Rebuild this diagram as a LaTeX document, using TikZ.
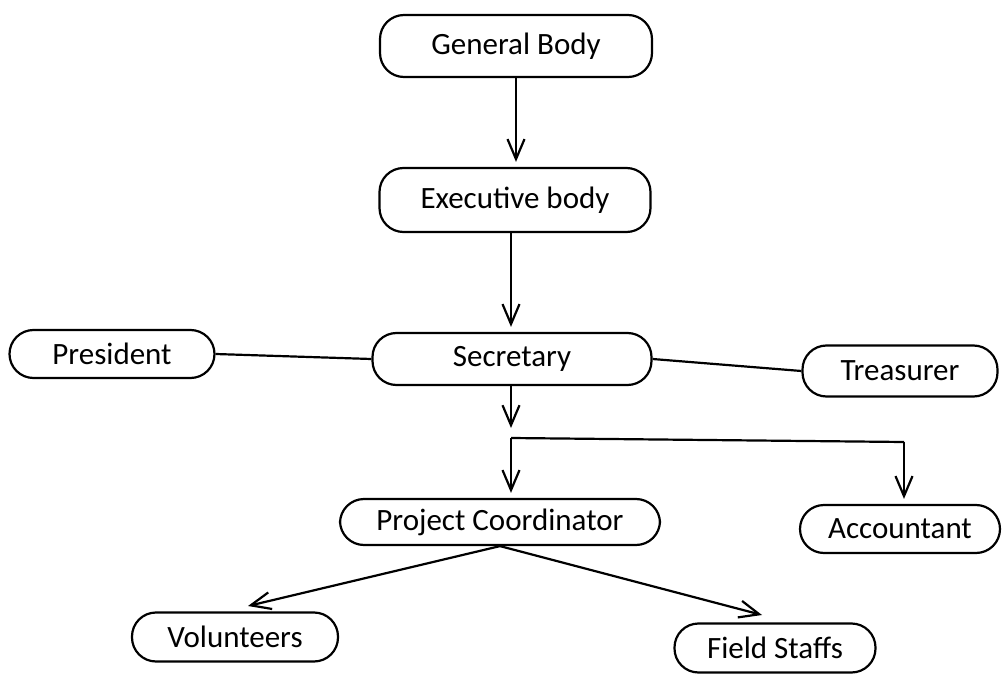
\documentclass[tikz,border=0pt]{standalone}
\usepackage{fontspec}
\setmainfont{Carlito}
\usetikzlibrary{arrows.meta}
\begin{document}
\begin{tikzpicture}[x=1pt,y=-1pt,
  box/.style={draw, line width=2.2pt, rounded corners=24pt, inner sep=0pt,
    font=\fontsize{31}{34}\selectfont, align=center},
  conn/.style={line width=2.2pt},
  arr/.style={conn, -{Straight Barb[length=20pt,width=17pt,line width=2.2pt]}, shorten >=5pt}]
\useasboundingbox (0,0) rectangle (1002,674);
\node[box, minimum width=272pt, minimum height=62pt] (gb) at (516,46) {General Body};
\node[box, minimum width=271pt, minimum height=64pt] (eb) at (515,200) {Executive body};
\node[box, minimum width=279pt, minimum height=52pt] (sec) at (512,359) {Secretary};
\node[box, minimum width=205pt, minimum height=48pt] (pres) at (112,354) {President};
\node[box, minimum width=195pt, minimum height=51pt] (tre) at (900,371) {Treasurer};
\node[box, minimum width=320pt, minimum height=46pt] (pc) at (500,522) {Project Coordinator};
\node[box, minimum width=200pt, minimum height=48pt] (acc) at (900,529) {Accountant};
\node[box, minimum width=206pt, minimum height=49pt] (vol) at (235,637) {Volunteers};
\node[box, minimum width=201pt, minimum height=49pt] (fs) at (775,648) {Field Staffs};
\coordinate (s1) at (511,428);
\coordinate (j) at (511,438);
\coordinate (k) at (904,442);
\coordinate (tv) at (248,606);
\coordinate (tf) at (762,615);
\draw[arr] (gb.south) -- (gb.south |- eb.north);
\draw[arr] (eb.south -| s1) -- (sec.north -| s1);
\draw[conn] (pres.east) -- (sec.west);
\draw[conn] (sec.east) -- (tre.west);
\draw[arr, shorten >=0pt] (sec.south -| s1) -- (s1);
\draw[conn] (j) -- (k);
\draw[arr] (j) -- (j |- pc.north);
\draw[arr] (k) -- (k |- acc.north);
\draw[arr, shorten >=0pt] (pc.south) -- (tv);
\draw[arr, shorten >=0pt] (pc.south) -- (tf);
\end{tikzpicture}
\end{document}
